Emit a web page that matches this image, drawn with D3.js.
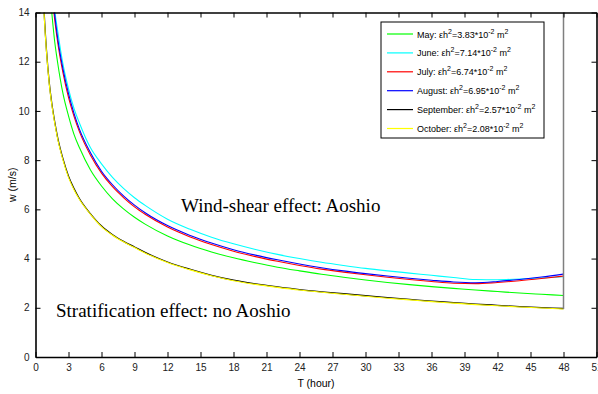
<!DOCTYPE html>
<html>
<head>
<meta charset="utf-8">
<script src="https://cdn.jsdelivr.net/npm/d3@7"></script>
<style>
  body { margin: 0; background: #fff; }
  svg { display: block; font-family: "Liberation Sans", Arial, sans-serif; }
</style>
</head>
<body>
<div id="chart"></div>
<script>
// hours
var hours = [0.6, 0.8, 1, 1.25, 1.5, 1.75, 2, 2.5, 3, 3.5, 4, 5, 6, 7, 8, 9, 10, 12, 14, 16, 18, 20, 22, 24, 26, 28, 30, 32, 34, 36, 38, 40, 42, 44, 46, 48];

// w (m/s) per month, null where the curve is off the top of the plot
var may = [null, null, null, 15.2, 13.9, 12.8, 12.0, 10.7, 9.8, 9.05, 8.5, 7.6, 6.95, 6.43, 6.02, 5.68, 5.39, 4.92, 4.56, 4.27, 4.03, 3.83, 3.65, 3.50, 3.36, 3.24, 3.13, 3.03, 2.94, 2.86, 2.79, 2.72, 2.66, 2.60, 2.55, 2.50];
var june = [null, null, null, null, 15.5, 14.1, 13.3, 11.9, 10.9, 10.1, 9.5, 8.5, 7.85, 7.3, 6.85, 6.47, 6.15, 5.6, 5.2, 4.87, 4.6, 4.37, 4.17, 4.0, 3.85, 3.72, 3.6, 3.5, 3.41, 3.32, 3.23, 3.15, 3.14, 3.17, 3.21, 3.26];
var july = [null, null, null, null, 14.8, 13.7, 12.85, 11.55, 10.55, 9.78, 9.15, 8.2, 7.47, 6.92, 6.48, 6.1, 5.79, 5.28, 4.89, 4.57, 4.30, 4.08, 3.89, 3.72, 3.57, 3.45, 3.34, 3.24, 3.15, 3.07, 3.0, 2.98, 3.03, 3.10, 3.19, 3.29];
var august = [null, null, null, null, 15.0, 13.9, 13.0, 11.7, 10.7, 9.9, 9.25, 8.3, 7.55, 7.0, 6.55, 6.17, 5.85, 5.34, 4.95, 4.63, 4.36, 4.14, 3.95, 3.78, 3.63, 3.50, 3.39, 3.29, 3.20, 3.12, 3.05, 3.02, 3.07, 3.15, 3.25, 3.37];
var september = [16.1, 13.9, 12.45, 11.15, 10.25, 9.55, 8.95, 8.05, 7.35, 6.85, 6.43, 5.82, 5.32, 4.97, 4.70, 4.47, 4.24, 3.86, 3.57, 3.32, 3.12, 2.97, 2.85, 2.74, 2.65, 2.57, 2.49, 2.41, 2.34, 2.27, 2.21, 2.15, 2.10, 2.05, 2.01, 1.97];
var october = [16.0, 13.8, 12.4, 11.1, 10.2, 9.5, 8.9, 8.0, 7.3, 6.8, 6.4, 5.8, 5.3, 4.95, 4.68, 4.45, 4.22, 3.84, 3.55, 3.30, 3.10, 2.95, 2.83, 2.72, 2.63, 2.55, 2.47, 2.39, 2.32, 2.25, 2.19, 2.13, 2.08, 2.03, 1.99, 1.95];

var monthNames = ["May", "June", "July", "August", "September", "October"];
var monthValues = [may, june, july, august, september, october];
var monthColors = ["#00ff00", "#00ffff", "#ff0000", "#0000ff", "#000000", "#ffff00"];
var ehValues = ["3.83", "7.14", "6.74", "6.95", "2.57", "2.08"];

var xTicks = d3.range(0, 52, 3);
var yTicks = [0, 2, 4, 6, 8, 10, 12, 14];

// vertical line at the end of the run
var endHour = 48;
var endLow = 1.95;

var width = 598, height = 394;
var margin = { top: 12.5, right: 1.5, bottom: 37, left: 35.5 };

var svg = d3.select("#chart").append("svg")
    .attr("width", width)
    .attr("height", height);

var x = d3.scaleLinear().domain([0, 51]).range([margin.left, width - margin.right]);
var y = d3.scaleLinear().domain([0, 14]).range([height - margin.bottom, margin.top]);

svg.append("clipPath").attr("id", "plotClip")
    .append("rect")
    .attr("x", x(0)).attr("y", y(14))
    .attr("width", x(51) - x(0)).attr("height", y(0) - y(14));

var plot = svg.append("g").attr("clip-path", "url(#plotClip)");

var line = d3.line()
    .defined(function (d) { return d[1] != null; })
    .x(function (d) { return x(d[0]); })
    .y(function (d) { return y(d[1]); })
    .curve(d3.curveMonotoneX);

// black goes down before yellow so the yellow shows on top
monthValues.forEach(function (vals, i) {
    var pts = hours.map(function (h, j) { return [h, vals[j]]; });
    plot.append("path")
        .datum(pts)
        .attr("fill", "none")
        .attr("stroke", monthColors[i])
        .attr("stroke-width", i == 4 ? 1.3 : 1.1)
        .attr("d", line);
});

plot.append("line")
    .attr("x1", x(endHour)).attr("x2", x(endHour))
    .attr("y1", y(endLow)).attr("y2", y(14))
    .attr("stroke", "#7f7f7f")
    .attr("stroke-width", 1.5);

// axes, ticks inward on all four sides
var axes = svg.append("g");
axes.append("g")
    .attr("transform", "translate(0," + y(0) + ")")
    .call(d3.axisBottom(x).tickValues(xTicks).tickSizeInner(-5).tickSizeOuter(0).tickPadding(7));
axes.append("g")
    .attr("transform", "translate(0," + y(14) + ")")
    .call(d3.axisTop(x).tickValues(xTicks).tickSizeInner(-5).tickSizeOuter(0).tickFormat(""));
axes.append("g")
    .attr("transform", "translate(" + x(0) + ",0)")
    .call(d3.axisLeft(y).tickValues(yTicks).tickSizeInner(-5).tickSizeOuter(0).tickPadding(6));
axes.append("g")
    .attr("transform", "translate(" + x(51) + ",0)")
    .call(d3.axisRight(y).tickValues(yTicks).tickSizeInner(-5).tickSizeOuter(0).tickFormat(""));

axes.selectAll(".domain").attr("stroke", "#000").attr("stroke-width", 1.6);
axes.selectAll(".tick line").attr("stroke", "#000");
axes.selectAll(".tick text")
    .attr("font-family", "'Liberation Sans', Arial, sans-serif")
    .attr("font-size", 10)
    .attr("fill", "#222");

svg.append("text")
    .attr("x", x(25.5)).attr("y", 387)
    .attr("text-anchor", "middle")
    .attr("font-size", 10.5)
    .text("T (hour)");

svg.append("text")
    .attr("transform", "translate(16," + y(7) + ") rotate(-90)")
    .attr("text-anchor", "middle")
    .attr("font-size", 10.5)
    .text("w (m/s)");

// annotations
svg.append("text")
    .attr("x", 181).attr("y", 212)
    .attr("font-family", "'Liberation Serif', 'Times New Roman', serif")
    .attr("font-size", 19)
    .text("Wind-shear effect: Aoshio");

svg.append("text")
    .attr("x", 56).attr("y", 317)
    .attr("font-family", "'Liberation Serif', 'Times New Roman', serif")
    .attr("font-size", 19)
    .text("Stratification effect: no Aoshio");

// legend
var legend = svg.append("g");
legend.append("rect")
    .attr("x", 381).attr("y", 22)
    .attr("width", 163).attr("height", 116)
    .attr("fill", "#fff")
    .attr("stroke", "#000")
    .attr("stroke-width", 1);

monthNames.forEach(function (name, i) {
    var ly = 34 + i * 18.9;
    legend.append("line")
        .attr("x1", 387).attr("x2", 413)
        .attr("y1", ly).attr("y2", ly)
        .attr("stroke", monthColors[i])
        .attr("stroke-width", 1.2);
    var t = legend.append("text")
        .attr("x", 417).attr("y", ly + 3.5)
        .attr("font-size", 9);
    t.append("tspan").text(name + ": \u03b5h");
    t.append("tspan").attr("font-size", 7).attr("dy", -4).text("2");
    t.append("tspan").attr("dy", 4).text("=" + ehValues[i] + "*10");
    t.append("tspan").attr("font-size", 7).attr("dy", -4).text("-2");
    t.append("tspan").attr("dy", 4).text(" m");
    t.append("tspan").attr("font-size", 7).attr("dy", -4).text("2");
});
</script>
</body>
</html>
